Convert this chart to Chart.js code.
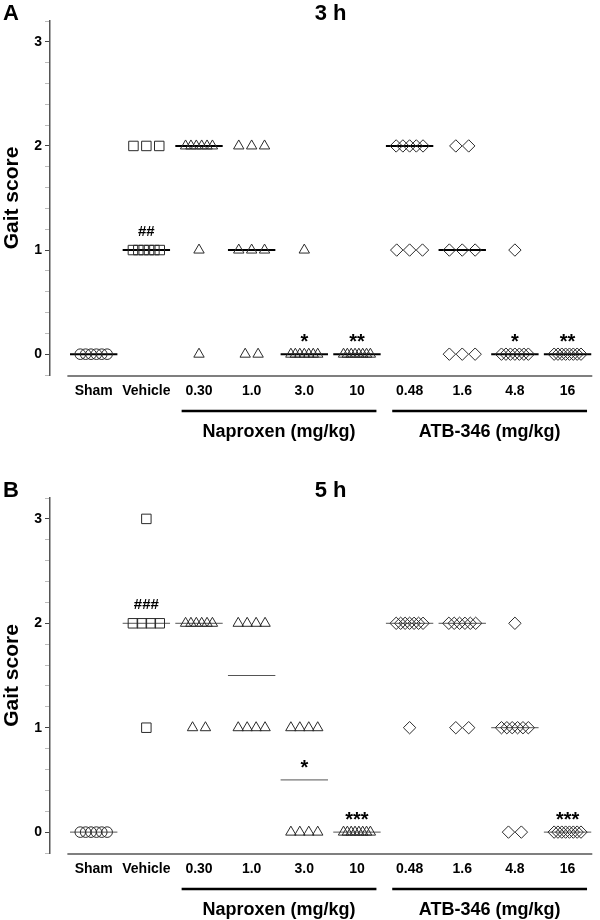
<!DOCTYPE html>
<html>
<head>
<meta charset="utf-8">
<script src="https://cdn.jsdelivr.net/npm/chart.js@4"></script>
<style>
  html, body { margin: 0; padding: 0; background: #fff; }
  .panel { position: relative; width: 600px; height: 460px; }
  canvas { display: block; }
</style>
</head>
<body>
<div class="panel"><canvas id="chartA" width="600" height="460"></canvas></div>
<div class="panel"><canvas id="chartB" width="600" height="460"></canvas></div>
<script>
// categories along the x axis
const groupLabels = ['Sham', 'Vehicle', '0.30', '1.0', '3.0', '10', '0.48', '1.6', '4.8', '16'];
const groupShapes = ['circle', 'rect', 'triangle', 'triangle', 'triangle', 'triangle',
                     'rectRot', 'rectRot', 'rectRot', 'rectRot'];
const drugGroups = [
  { name: 'Naproxen (mg/kg)', first: 2, last: 5 },
  { name: 'ATB-346 (mg/kg)', first: 6, last: 9 }
];

// individual gait scores per group
const scores3h = [
  [0, 0, 0, 0, 0, 0],
  [2, 2, 2, 1, 1, 1, 1, 1, 1],
  [2, 2, 2, 2, 2, 2, 1, 0],
  [2, 2, 2, 1, 1, 1, 0, 0],
  [1, 0, 0, 0, 0, 0, 0, 0],
  [0, 0, 0, 0, 0, 0, 0, 0],
  [2, 2, 2, 2, 2, 1, 1, 1],
  [2, 2, 1, 1, 1, 0, 0, 0],
  [1, 0, 0, 0, 0, 0, 0, 0],
  [0, 0, 0, 0, 0, 0, 0, 0]
];
const scores5h = [
  [0, 0, 0, 0, 0, 0],
  [3, 2, 2, 2, 2, 1],
  [2, 2, 2, 2, 2, 2, 1, 1],
  [2, 2, 2, 2, 1, 1, 1, 1],
  [1, 1, 1, 1, 0, 0, 0, 0],
  [0, 0, 0, 0, 0, 0, 0, 0],
  [2, 2, 2, 2, 2, 2, 2, 1],
  [2, 2, 2, 2, 2, 2, 1, 1],
  [2, 1, 1, 1, 1, 1, 1, 0, 0],
  [0, 0, 0, 0, 0, 0, 0, 0]
];

// significance marks over each group
const marks3h = ['', '##', '', '', '*', '**', '', '', '*', '**'];
const marks5h = ['', '###', '', '', '*', '***', '', '', '', '***'];

const yMajorTicks = [0, 1, 2, 3];

const FONT = '"Liberation Sans", Arial, Helvetica, sans-serif';
Chart.defaults.font.family = FONT;
Chart.defaults.color = '#000';

const shapeRadius = { circle: 5.3, rect: 6.7, triangle: 6, rectRot: 6.2 };

function median(arr) {
  const s = [...arr].sort((a, b) => a - b);
  const m = Math.floor(s.length / 2);
  return s.length % 2 ? s[m] : (s[m - 1] + s[m]) / 2;
}

// spread tied scores sideways, like a column scatter
function spreadPoints(scores, idx) {
  const counts = {};
  scores.forEach(v => { counts[v] = (counts[v] || 0) + 1; });
  const pts = [];
  Object.keys(counts).forEach(k => {
    const n = counts[k];
    const span = Math.min(0.245 * (n - 1), 0.51);
    for (let j = 0; j < n; j++) {
      const off = n > 1 ? -span / 2 + span * j / (n - 1) : 0;
      pts.push({ x: idx + off, y: Number(k) });
    }
  });
  return pts;
}

function buildDatasets(scores, lineWidth, lineColor) {
  const sets = [];
  scores.forEach((grp, i) => {
    const m = median(grp);
    sets.push({
      data: [{ x: i - 0.45, y: m }, { x: i + 0.45, y: m }],
      showLine: true,
      borderColor: lineColor,
      borderWidth: lineWidth,
      pointRadius: 0,
      order: 2
    });
  });
  scores.forEach((grp, i) => {
    const shape = groupShapes[i];
    sets.push({
      data: spreadPoints(grp, i),
      pointStyle: shape,
      pointRadius: shapeRadius[shape],
      borderColor: '#2a2a2a',
      borderWidth: 1,
      backgroundColor: 'rgba(0,0,0,0)',
      showLine: false,
      order: 1
    });
  });
  return sets;
}

const panelDecor = {
  id: 'panelDecor',
  afterDraw(chart, args, opts) {
    const { ctx, chartArea, scales: { x, y } } = chart;
    ctx.save();
    // x axis line (starts a bit right of the y axis)
    ctx.strokeStyle = '#555';
    ctx.lineWidth = 1.5;
    ctx.beginPath();
    ctx.moveTo(x.getPixelForValue(-0.5), chartArea.bottom + 1);
    ctx.lineTo(chartArea.right, chartArea.bottom + 1);
    ctx.stroke();

    // panel letter and time label
    ctx.fillStyle = '#000';
    ctx.font = 'bold 22px ' + FONT;
    ctx.textBaseline = 'alphabetic';
    ctx.textAlign = 'left';
    ctx.fillText(opts.letter, 3, opts.titleY);
    ctx.textAlign = 'center';
    ctx.fillText(opts.time, x.getPixelForValue(4.5), opts.titleY);

    // significance marks above the medians
    opts.marks.forEach((mk, i) => {
      if (!mk) return;
      const py = y.getPixelForValue(median(opts.scores[i]));
      if (mk[0] === '#') {
        ctx.font = 'bold 15px ' + FONT;
        ctx.fillText(mk, x.getPixelForValue(i), py - 14);
      } else {
        ctx.font = 'bold 20px ' + FONT;
        ctx.fillText(mk, x.getPixelForValue(i), py - 6);
      }
    });

    // drug group brackets
    drugGroups.forEach(g => {
      const x1 = x.getPixelForValue(g.first - 0.33);
      const x2 = x.getPixelForValue(g.last + 0.37);
      ctx.strokeStyle = '#000';
      ctx.lineWidth = 2.5;
      ctx.beginPath();
      ctx.moveTo(x1, chartArea.bottom + 36);
      ctx.lineTo(x2, chartArea.bottom + 36);
      ctx.stroke();
      ctx.font = 'bold 18px ' + FONT;
      ctx.textBaseline = 'middle';
      ctx.fillText(g.name, (x1 + x2) / 2, chartArea.bottom + 57);
      ctx.textBaseline = 'alphabetic';
    });
    ctx.restore();
  }
};

function isMajor(v) {
  return yMajorTicks.some(t => Math.abs(t - v) < 1e-6);
}

function makePanel(id, scores, marks, letter, time, padTop, padBottom, titleY, lineWidth, lineColor) {
  return new Chart(document.getElementById(id), {
    type: 'scatter',
    data: { datasets: buildDatasets(scores, lineWidth, lineColor) },
    plugins: [panelDecor],
    options: {
      responsive: false,
      animation: false,
      events: [],
      layout: { padding: { top: padTop, bottom: padBottom, left: 0, right: 3 } },
      plugins: {
        legend: { display: false },
        tooltip: { enabled: false },
        panelDecor: { letter, time, marks, scores, titleY }
      },
      scales: {
        x: {
          type: 'linear',
          min: -0.83,
          max: 9.47,
          border: { display: false },
          grid: { display: false, drawTicks: false },
          afterBuildTicks: s => { s.ticks = groupLabels.map((_, i) => ({ value: i })); },
          afterFit: s => { s.height = 30; },
          ticks: {
            autoSkip: false,
            maxRotation: 0,
            padding: 8,
            color: '#000',
            font: { size: 14, weight: 'bold' },
            callback: v => groupLabels[v]
          }
        },
        y: {
          min: -0.2,
          max: 3.2,
          afterBuildTicks: s => {
            const t = [];
            for (let k = 0; k <= 17; k++) t.push({ value: Math.round((-0.2 + 0.2 * k) * 10) / 10 });
            s.ticks = t;
          },
          afterFit: s => { s.width = 50; },
          border: { display: true, color: '#555', width: 1.5 },
          grid: {
            drawOnChartArea: false,
            drawTicks: true,
            tickLength: 5,
            tickColor: c => isMajor(c.tick.value) ? '#444' : '#bbb'
          },
          ticks: {
            padding: 3,
            color: '#000',
            font: { size: 14, weight: 'bold' },
            callback: v => isMajor(v) ? String(Math.round(v)) : ''
          },
          title: {
            display: true,
            text: 'Gait score',
            color: '#000',
            padding: 0,
            font: { size: 21, weight: 'bold' }
          }
        }
      }
    }
  });
}

makePanel('chartA', scores3h, marks3h, 'A', '3 h', 21, 55, 20, 2, '#000');
makePanel('chartB', scores5h, marks5h, 'B', '5 h', 38, 37, 37, 1, '#555');
</script>
</body>
</html>
